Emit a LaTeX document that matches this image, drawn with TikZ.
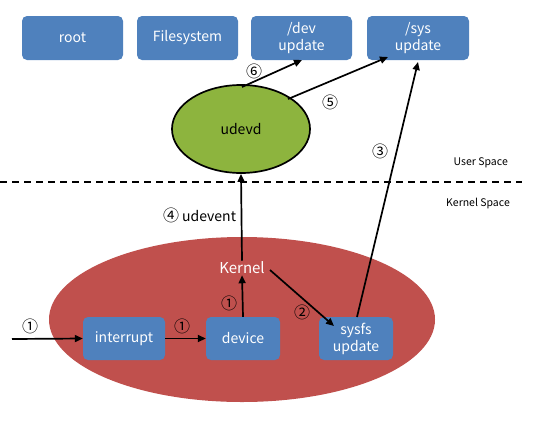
\documentclass[tikz,border=0pt]{standalone}
\usepackage{fontspec}
\setmainfont{Noto Sans CJK KR}
\usetikzlibrary{arrows.meta,shapes.geometric}
\definecolor{bluebox}{HTML}{4F81BD}
\definecolor{redell}{HTML}{C0504D}
\definecolor{greenell}{HTML}{8DB43E}
\tikzset{
  blk/.style={draw=none,fill=bluebox,rounded corners=5pt,text=white,font=\fontsize{14}{17}\selectfont,align=center,inner sep=0pt},
  arr/.style={line width=1.7pt,-{Triangle[length=8pt,width=7pt]}},
  num/.style={font=\fontsize{16}{17}\selectfont,inner sep=0pt},
  spc/.style={font=\fontsize{10.5}{11}\selectfont,inner sep=0pt},
}
\begin{document}
\begin{tikzpicture}[x=1pt,y=-1pt]
\useasboundingbox (0,0) rectangle (535,424);
% top boxes
\node[blk,minimum width=101pt,minimum height=44pt] (root) at (72.5,38) {root};
\node[blk,minimum width=101pt,minimum height=44pt] (fs) at (187.5,38) {Filesystem};
\node[blk,minimum width=101pt,minimum height=44pt] (dev) at (301.5,38) {/dev\\update};
\node[blk,minimum width=102pt,minimum height=44pt] (sys) at (418,38) {/sys\\update};
% udevd
\node[ellipse,draw=black,line width=1.7pt,fill=greenell,minimum width=138pt,minimum height=88pt,font=\fontsize{14}{15}\selectfont] (udevd) at (241,129) {udevd};
% dashed line
\coordinate (dl) at (0,182);
\coordinate (dr) at (522,182);
\draw[line width=1.7pt,dash pattern=on 7pt off 5pt] (dl) -- (dr);
\node[spc,anchor=east] (us) at (508,163) {User Space};
\node[spc,anchor=east] (ks) at (510,204) {Kernel Space};
% kernel ellipse
\node[ellipse,draw=none,fill=redell,minimum width=386pt,minimum height=165pt] (kell) at (242,319.5) {};
\node[text=white,font=\fontsize{15}{16}\selectfont,inner sep=1pt] (kernel) at (242,268) {Kernel};
\node[blk,minimum width=82pt,minimum height=43pt] (intr) at (124,338.5) {interrupt};
\node[blk,minimum width=74pt,minimum height=43pt] (device) at (243,338.5) {device};
\node[blk,minimum width=74pt,minimum height=43pt] (sysfs) at (356,338.5) {sysfs\\update};
% named arrow ends
\coordinate (src) at (12,339);
\coordinate (ke) at (270,270);
\coordinate (sfin) at (334,326);
\coordinate (sfout) at (357,317);
\coordinate (sysin3) at (418,62);
\coordinate (ud6) at (242,87);
\coordinate (dev6) at (302,60);
\coordinate (ud5) at (288,99);
\coordinate (sys5) at (388,57);
% arrows
\draw[arr] (src) -- (intr.west);
\node[num] (n1a) at (30,326) {①};
\draw[arr] (intr.east) -- (device.west);
\node[num] (n1b) at (182,326) {①};
\draw[arr] (device.north) -- (kernel.south);
\node[num] (n1c) at (229,303) {①};
\draw[arr] (ke) -- (sfin);
\node[num] (n2) at (302,312) {②};
\draw[arr] (kernel.north) -- (udevd.south);
\node[num,anchor=west] (n4) at (163,215) {④\hspace{3pt}{\fontsize{14}{15}\selectfont udevent}};
\draw[arr] (sfout) -- (sysin3);
\node[num] (n3) at (380,151) {③};
\draw[arr] (ud6) -- (dev6);
\node[num] (n6) at (254,71) {⑥};
\draw[arr] (ud5) -- (sys5);
\node[num] (n5) at (330,102) {⑤};
\end{tikzpicture}
\end{document}
